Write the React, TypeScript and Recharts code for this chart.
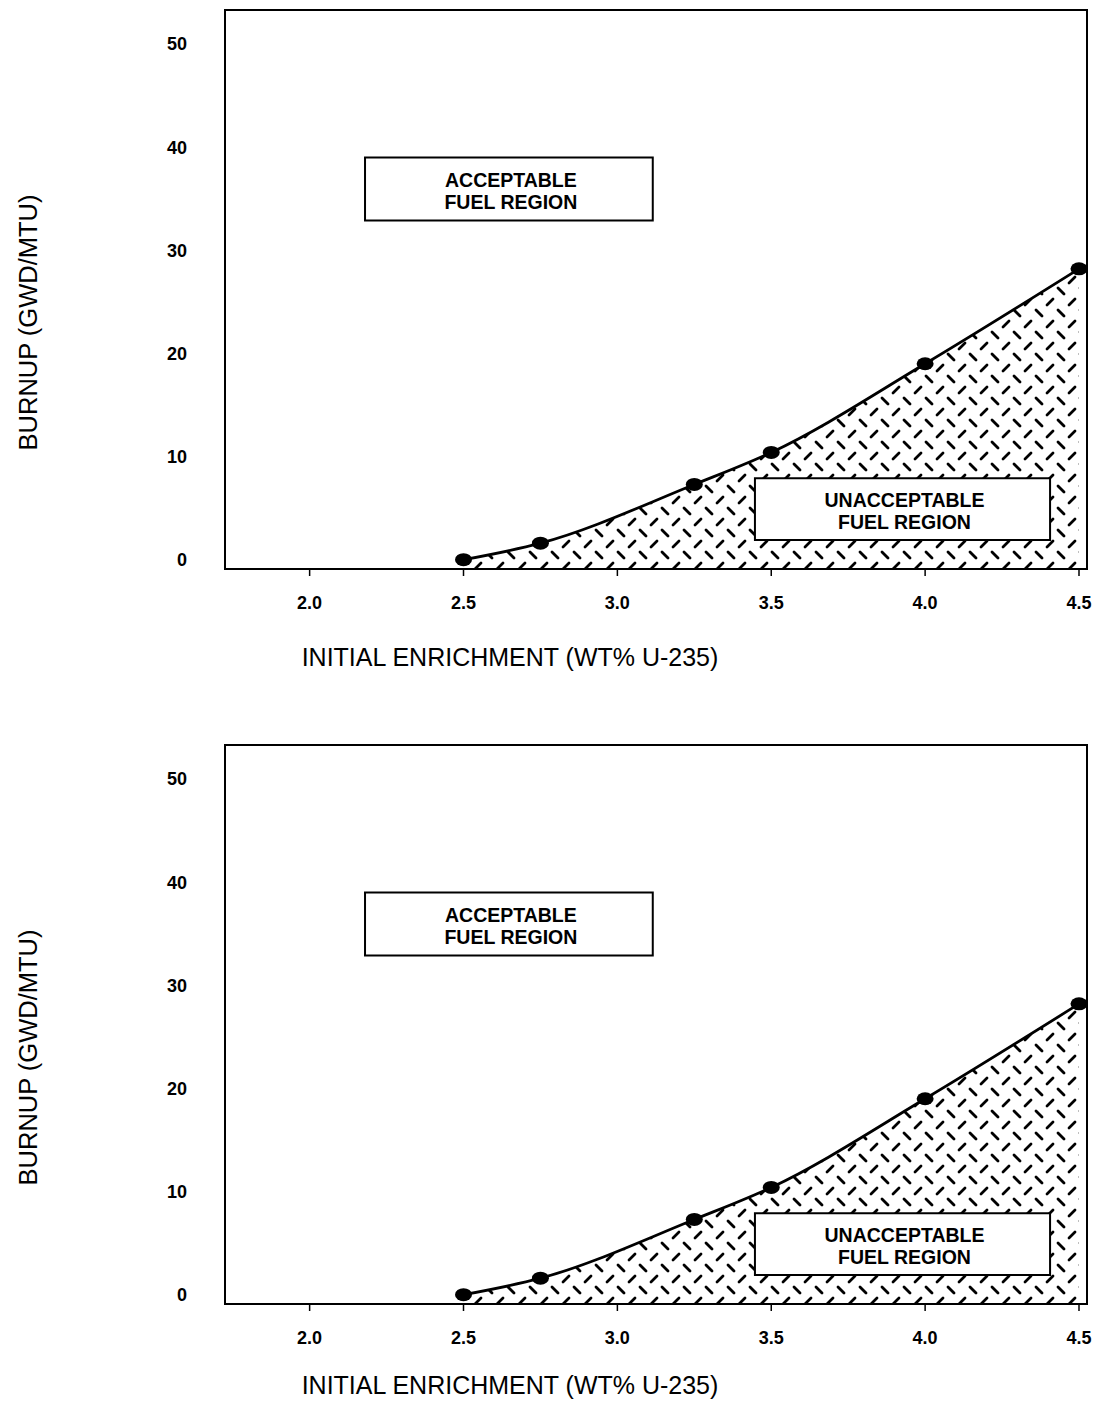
import React from "react";
import {
  ComposedChart,
  Area,
  Line,
  XAxis,
  YAxis,
  ReferenceArea,
} from "recharts";

// enrichment (wt% U-235) vs minimum burnup (GWd/MTU)
const enrichment = [2.5, 2.75, 3.25, 3.5, 4.0, 4.5];
const burnup = [0, 1.6, 7.3, 10.4, 19.0, 28.2];

const xTicks = [2.0, 2.5, 3.0, 3.5, 4.0, 4.5];
const yTicks = [0, 10, 20, 30, 40, 50];

const X_MIN = 1.725;
const X_MAX = 4.526;
const Y_MIN = -0.9;
const Y_MAX = 53.3;

const FONT = "'Liberation Sans', Arial, Helvetica, sans-serif";

const data = enrichment.map((x, i) => ({ x, y: burnup[i] }));

const EllipseDot = (props: any) => {
  const { cx, cy, index } = props;
  if (cx == null || cy == null) return null;
  return <ellipse key={`dot-${index}`} cx={cx} cy={cy} rx={8.5} ry={6.5} fill="#000" />;
};

const boxLabel = (lines: string[]) => (props: any) => {
  const { viewBox } = props;
  if (!viewBox) return null;
  const cx = viewBox.x + viewBox.width / 2 + 2;
  const cy = viewBox.y + viewBox.height / 2;
  return (
    <text
      x={cx}
      y={cy}
      textAnchor="middle"
      fontFamily={FONT}
      fontWeight="bold"
      fontSize={19.5}
      fill="#000"
    >
      <tspan x={cx} dy={-2}>{lines[0]}</tspan>
      <tspan x={cx} dy={22}>{lines[1]}</tspan>
    </text>
  );
};

const xTitle = (offset: number) => (props: any) => {
  const { viewBox } = props;
  if (!viewBox) return null;
  return (
    <text
      x={viewBox.x + 285}
      y={viewBox.y + offset}
      dy="0.35em"
      textAnchor="middle"
      fontFamily={FONT}
      fontSize={25}
      fill="#000"
    >
      INITIAL ENRICHMENT (WT% U-235)
    </text>
  );
};

const yTitle = (props: any) => {
  const { viewBox } = props;
  if (!viewBox) return null;
  const x = 28;
  const y = viewBox.y + viewBox.height / 2 + 33;
  return (
    <text
      x={x}
      y={y}
      dy="0.35em"
      textAnchor="middle"
      transform={`rotate(-90 ${x} ${y})`}
      fontFamily={FONT}
      fontSize={25.5}
      fill="#000"
    >
      BURNUP (GWD/MTU)
    </text>
  );
};

function FuelChart({ height, id, titleOffset }: { height: number; id: string; titleOffset: number }) {
  const hatchId = `hatch-${id}`;
  return (
    <ComposedChart
      width={1102}
      height={height}
      data={data}
      margin={{ top: 10, right: 15, bottom: 0, left: 0 }}
    >
      <defs>
        <pattern id={hatchId} width={22} height={22} patternUnits="userSpaceOnUse">
          <line x1={2} y1={2} x2={8} y2={8} stroke="#000" strokeWidth={2.8} strokeLinecap="round" />
          <line x1={13} y1={19} x2={19} y2={13} stroke="#000" strokeWidth={2.8} strokeLinecap="round" />
        </pattern>
      </defs>
      <XAxis
        type="number"
        dataKey="x"
        domain={[X_MIN, X_MAX]}
        ticks={xTicks}
        allowDataOverflow
        tickFormatter={(v: number) => v.toFixed(1)}
        height={height - 569}
        tickSize={7}
        tickMargin={20}
        axisLine={{ stroke: "#000", strokeWidth: 2 }}
        tickLine={{ stroke: "#000", strokeWidth: 1.5 }}
        tick={{ fill: "#000", fontSize: 18, fontWeight: "bold", fontFamily: FONT }}
        label={xTitle(titleOffset)}
      />
      <YAxis
        type="number"
        domain={[Y_MIN, Y_MAX]}
        ticks={yTicks}
        allowDataOverflow
        width={225}
        tickSize={0}
        tickMargin={38}
        tickLine={false}
        axisLine={{ stroke: "#000", strokeWidth: 2 }}
        tick={{ fill: "#000", fontSize: 18, fontWeight: "bold", fontFamily: FONT }}
        label={yTitle}
      />
      <Area
        dataKey="y"
        type="monotone"
        baseValue={Y_MIN}
        fill={`url(#${hatchId})`}
        fillOpacity={1}
        stroke="none"
        isAnimationActive={false}
      />
      <Line
        dataKey="y"
        type="monotone"
        stroke="#000"
        strokeWidth={2.8}
        dot={EllipseDot}
        activeDot={false}
        isAnimationActive={false}
      />
      <ReferenceArea
        x1={X_MIN}
        x2={X_MAX}
        y1={Y_MIN}
        y2={Y_MAX}
        fill="none"
        fillOpacity={0}
        stroke="#000"
        strokeWidth={2}
        ifOverflow="visible"
      />
      <ReferenceArea
        x1={2.18}
        x2={3.115}
        y1={32.9}
        y2={39.0}
        fill="#fff"
        fillOpacity={1}
        stroke="#000"
        strokeWidth={2}
        label={boxLabel(["ACCEPTABLE", "FUEL REGION"])}
      />
      <ReferenceArea
        x1={3.447}
        x2={4.406}
        y1={1.9}
        y2={7.9}
        fill="#fff"
        fillOpacity={1}
        stroke="#000"
        strokeWidth={2}
        label={boxLabel(["UNACCEPTABLE", "FUEL REGION"])}
      />
    </ComposedChart>
  );
}

export default function App() {
  return (
    <div
      style={{
        position: "absolute",
        left: 0,
        top: 0,
        width: 1102,
        height: 1403,
        background: "#fff",
        overflow: "hidden",
      }}
    >
      <FuelChart height={735} id="top" titleOffset={88} />
      <FuelChart height={668} id="bottom" titleOffset={81} />
    </div>
  );
}
